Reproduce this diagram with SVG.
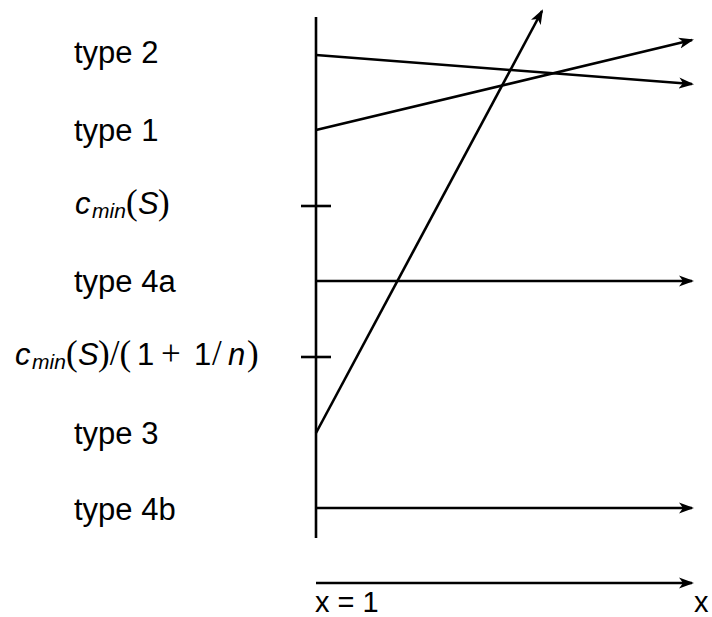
<svg xmlns="http://www.w3.org/2000/svg" width="712" height="617" viewBox="0 0 712 617">
<style>
.lbl{font-family:"Liberation Sans",Arial,sans-serif;font-size:31px;fill:#000}
.ax{font-family:"Liberation Sans",Arial,sans-serif;font-size:29px;fill:#000}
.it{font-style:italic}
.sub{font-size:21px;font-style:italic}
.p{font-family:"Liberation Serif","Times New Roman",serif;font-size:35px}
.ln{stroke:#000;stroke-width:2.6;fill:none}
.arr{stroke:#000;stroke-width:2.6;fill:none;marker-end:url(#ah)}
</style>
<defs>
<marker id="ah" markerUnits="userSpaceOnUse" markerWidth="16" markerHeight="14" viewBox="0 0 16 14" refX="13" refY="7" orient="auto">
<path d="M0,1.5 L15,7 L0,12.5 L4,7 z" fill="#000"/>
</marker>
</defs>
<rect width="712" height="617" fill="#fff"/>
<g id="labels">
<g id="type2"><text class="lbl" x="74" y="63">type 2</text></g>
<g id="type1"><text class="lbl" x="74" y="141">type 1</text></g>
<g id="cmin"><text class="lbl" y="214"><tspan class="it" x="75">c</tspan><tspan class="sub" x="92" dy="4">min</tspan><tspan class="p" x="126" dy="-4">(</tspan><tspan class="it" x="138">S</tspan><tspan class="p" x="158">)</tspan></text></g>
<g id="type4a"><text class="lbl" x="74" y="292">type 4a</text></g>
<g id="cmin2"><text class="lbl" y="365"><tspan class="it" x="15">c</tspan><tspan class="sub" x="32" dy="4">min</tspan><tspan class="p" x="66" dy="-4">(</tspan><tspan class="it" x="78">S</tspan><tspan class="p" x="98">)/(</tspan><tspan x="137">1</tspan><tspan class="p" x="161">+</tspan><tspan x="194">1</tspan><tspan class="p" x="212">/</tspan><tspan class="it" x="228">n</tspan><tspan class="p" x="247">)</tspan></text></g>
<g id="type3"><text class="lbl" x="74" y="444">type 3</text></g>
<g id="type4b"><text class="lbl" x="74" y="520">type 4b</text></g>
<g id="x1"><text class="ax" x="315" y="612">x = 1</text></g>
<g id="xlab"><text class="ax" x="694" y="612">x</text></g>
</g>
<g id="connectors">
<line class="ln" x1="316" y1="17" x2="316" y2="538"/>
<line class="ln" x1="301" y1="206" x2="331" y2="206"/>
<line class="ln" x1="301" y1="357" x2="331" y2="357"/>
<line class="arr" x1="316" y1="55" x2="692" y2="84"/>
<line class="arr" x1="316" y1="130" x2="692" y2="40"/>
<line class="arr" x1="316" y1="433" x2="542" y2="11"/>
<line class="arr" x1="316" y1="281" x2="692" y2="281"/>
<line class="arr" x1="316" y1="508" x2="692" y2="508"/>
<line class="arr" x1="316" y1="583" x2="692" y2="583"/>
</g>
</svg>
